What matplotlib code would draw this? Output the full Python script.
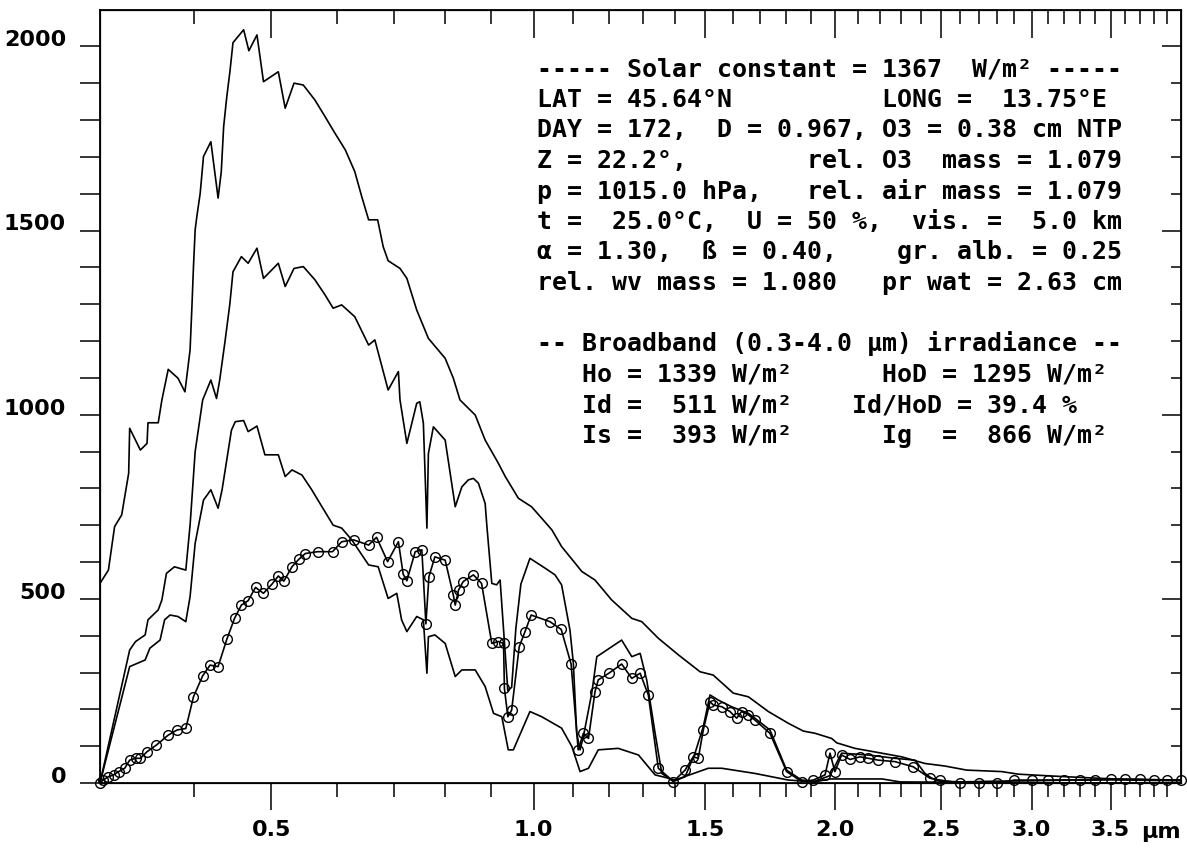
import numpy as np
import matplotlib.pyplot as plt

plt.rcParams['font.family'] = 'DejaVu Sans'
plt.rcParams['font.weight'] = 'bold'

# wavelength (um) and spectral irradiance (W m-2 um-1)
# top curve
wl_top = [0.300, 0.308, 0.314, 0.321, 0.328, 0.329, 0.340, 0.347, 0.348, 0.359,
          0.363, 0.370, 0.381, 0.389, 0.395, 0.397, 0.399, 0.401, 0.403, 0.407,
          0.411, 0.420, 0.429, 0.433, 0.436, 0.440, 0.444, 0.448, 0.462, 0.469,
          0.480, 0.489, 0.510, 0.520, 0.533, 0.547, 0.565, 0.581, 0.597, 0.614,
          0.630, 0.642, 0.654, 0.670, 0.680, 0.689, 0.711, 0.724, 0.743, 0.766,
          0.800, 0.817, 0.831, 0.864, 0.886, 0.916, 0.932, 0.963, 0.995, 1.024,
          1.046, 1.071, 1.125, 1.161, 1.208, 1.267, 1.297, 1.348, 1.412, 1.484,
          1.529, 1.600, 1.655, 1.730, 1.808, 1.868, 1.916, 1.986, 2.008, 2.088,
          2.209, 2.304, 2.418, 2.520, 2.634, 2.827, 2.922, 3.122, 3.310, 3.530,
          4.000]
E_top = [542, 578, 696, 728, 841, 963, 904, 922, 978, 978,
         1040, 1123, 1099, 1062, 1176, 1284, 1402, 1502, 1538, 1601,
         1701, 1741, 1588, 1660, 1782, 1863, 1931, 2010, 2045, 1988,
         2031, 1904, 1931, 1832, 1900, 1895, 1854, 1809, 1764, 1719,
         1660, 1592, 1529, 1529, 1456, 1418, 1397, 1370, 1284, 1207,
         1153, 1099, 1040, 999, 931, 868, 832, 773, 750, 714,
         687, 642, 574, 551, 497, 447, 438, 393, 348, 302,
         293, 244, 234, 194, 162, 141, 135, 121, 109, 94,
         81, 71, 53, 46, 35, 31, 24, 19, 15, 11,
         8]

# second curve
wl_mid = [0.300, 0.329, 0.335, 0.345, 0.348, 0.359, 0.363, 0.368, 0.377, 0.390,
          0.395, 0.401, 0.410, 0.420, 0.427, 0.431, 0.438, 0.444, 0.448, 0.459,
          0.468, 0.480, 0.489, 0.510, 0.520, 0.533, 0.547, 0.565, 0.581, 0.594,
          0.608, 0.630, 0.654, 0.665, 0.689, 0.708, 0.711, 0.724, 0.743, 0.749,
          0.756, 0.763, 0.766, 0.776, 0.800, 0.821, 0.835, 0.849, 0.860, 0.871,
          0.886, 0.890, 0.901, 0.912, 0.920, 0.929, 0.938, 0.947, 0.957, 0.969,
          0.991, 1.029, 1.054, 1.071, 1.093, 1.102, 1.111, 1.120, 1.129, 1.152,
          1.166, 1.180, 1.237, 1.267, 1.292, 1.312, 1.338, 1.359, 1.396, 1.434,
          1.467, 1.495, 1.518, 1.547, 1.594, 1.655, 1.679, 1.736, 1.801, 1.861,
          1.916, 1.979, 2.029, 2.148, 2.272, 2.369, 2.418, 2.452, 2.494, 2.600,
          2.800, 3.000, 3.200, 3.400, 3.600, 3.800, 4.000]
E_mid = [0, 361, 384, 402, 443, 470, 497, 569, 587, 578,
         700, 900, 1040, 1094, 1044, 1094, 1203, 1302, 1388, 1429,
         1411, 1452, 1370, 1411, 1348, 1397, 1402, 1366, 1325, 1289,
         1298, 1266, 1189, 1203, 1067, 1117, 1040, 922, 1031, 1035,
         977, 692, 895, 967, 931, 750, 804, 823, 827, 814,
         759, 696, 542, 538, 551, 400, 250, 260, 420, 540,
         610, 583, 565, 538, 415, 325, 135, 90, 126, 244,
         343, 352, 388, 343, 352, 280, 135, 26, 4, 17,
         81, 153, 239, 225, 207, 189, 176, 144, 35, 8,
         5, 20, 81, 76, 67, 62, 26, 13, 5, 3,
         5, 6, 8, 9, 8, 7, 6]

# curve drawn with circles
wl_dir = [0.300, 0.303, 0.308, 0.313, 0.318, 0.324, 0.329, 0.335, 0.340, 0.347,
          0.357, 0.370, 0.380, 0.390, 0.399, 0.410, 0.419, 0.429, 0.440, 0.450,
          0.459, 0.468, 0.478, 0.489, 0.501, 0.510, 0.518, 0.530, 0.540, 0.550,
          0.569, 0.593, 0.608, 0.628, 0.654, 0.668, 0.688, 0.708, 0.717, 0.724,
          0.740, 0.753, 0.761, 0.767, 0.779, 0.800, 0.817, 0.821, 0.828, 0.838,
          0.860, 0.878, 0.901, 0.916, 0.928, 0.930, 0.938, 0.947, 0.965, 0.979,
          0.994, 1.041, 1.070, 1.096, 1.115, 1.129, 1.143, 1.161, 1.170, 1.200,
          1.237, 1.267, 1.292, 1.317, 1.348, 1.396, 1.434, 1.461, 1.478, 1.495,
          1.518, 1.529, 1.559, 1.588, 1.612, 1.630, 1.655, 1.679, 1.736, 1.801,
          1.861, 1.909, 1.958, 1.979, 2.000, 2.029, 2.066, 2.110, 2.148, 2.194,
          2.272, 2.360, 2.443, 2.494, 2.600, 2.700, 2.800, 2.900, 3.000, 3.100,
          3.200, 3.300, 3.400, 3.500, 3.600, 3.700, 3.800, 3.900, 4.000]
E_dir = [0, 8, 17, 22, 31, 40, 62, 67, 67, 85,
         103, 130, 144, 148, 234, 291, 320, 316, 390, 447,
         483, 495, 531, 515, 540, 562, 548, 587, 607, 623,
         628, 628, 655, 660, 646, 667, 601, 655, 567, 549,
         628, 633, 432, 560, 614, 605, 510, 483, 524, 547,
         565, 542, 379, 384, 379, 257, 180, 198, 370, 411,
         456, 438, 417, 323, 90, 135, 121, 248, 280, 298,
         323, 284, 298, 239, 40, 4, 35, 71, 67, 144,
         221, 212, 207, 194, 176, 194, 185, 171, 135, 31,
         4, 8, 22, 81, 31, 76, 64, 71, 67, 62,
         58, 44, 13, 8, 0, 0, 0, 8, 8, 8,
         8, 8, 8, 10, 10, 10, 8, 8, 8]

# lowest curve
wl_low = [0.300, 0.329, 0.345, 0.350, 0.361, 0.366, 0.372, 0.381, 0.390, 0.395,
          0.401, 0.411, 0.420, 0.429, 0.434, 0.446, 0.451, 0.462, 0.468, 0.480,
          0.491, 0.510, 0.520, 0.530, 0.545, 0.560, 0.576, 0.594, 0.608, 0.625,
          0.654, 0.671, 0.689, 0.705, 0.714, 0.724, 0.743, 0.756, 0.763, 0.766,
          0.779, 0.800, 0.821, 0.835, 0.864, 0.886, 0.905, 0.924, 0.939, 0.951,
          0.991, 1.020, 1.071, 1.098, 1.120, 1.143, 1.170, 1.227, 1.287, 1.338,
          1.380, 1.401, 1.512, 1.559, 1.679, 1.808, 1.916, 1.979, 2.211, 2.296,
          2.817, 4.000]
E_low = [0, 316, 334, 366, 388, 443, 456, 452, 438, 506,
         651, 768, 796, 746, 796, 958, 981, 984, 954, 969,
         891, 891, 832, 850, 836, 796, 750, 700, 692, 660,
         592, 587, 501, 515, 443, 411, 452, 443, 298, 397,
         402, 379, 289, 307, 307, 262, 189, 180, 90, 90,
         194, 180, 149, 99, 31, 40, 90, 94, 76, 22,
         13, 8, 40, 40, 26, 8, 3, 11, 11, 3,
         1, 0]

info_lines = [
    "----- Solar constant = 1367  W/m² -----",
    "LAT = 45.64°N          LONG =  13.75°E",
    "DAY = 172,  D = 0.967, O3 = 0.38 cm NTP",
    "Z = 22.2°,        rel. O3  mass = 1.079",
    "p = 1015.0 hPa,   rel. air mass = 1.079",
    "t =  25.0°C,  U = 50 %,  vis. =  5.0 km",
    "α = 1.30,  ß = 0.40,    gr. alb. = 0.25",
    "rel. wv mass = 1.080   pr wat = 2.63 cm",
    "",
    "-- Broadband (0.3-4.0 µm) irradiance --",
    "   Ho = 1339 W/m²      HoD = 1295 W/m²",
    "   Id =  511 W/m²    Id/HoD = 39.4 %",
    "   Is =  393 W/m²      Ig  =  866 W/m²",
]

x_major = [0.5, 1.0, 1.5, 2.0, 2.5, 3.0, 3.5]
x_labels = ["0.5", "1.0", "1.5", "2.0", "2.5", "3.0", "3.5"]
x_minor = [round(0.4 + 0.1 * i, 1) for i in range(36)]
x_minor = [v for v in x_minor if v not in x_major]
y_major = [0, 500, 1000, 1500, 2000]
y_labels = ["0", "500", "1000", "1500", "2000"]
y_minor = [v for v in range(0, 2001, 100) if v not in y_major]


def fwd(x):
    return np.sign(x) * np.abs(x) ** 0.2


def inv(x):
    return np.sign(x) * np.abs(x) ** 5


W, H = 1187, 848
fig = plt.figure(figsize=(W / 100, H / 100), dpi=100)
ax = fig.add_axes([100 / W, 65 / H, 1081 / W, 773.5 / H])
ax.set_xscale('function', functions=(fwd, inv))
ax.set_xlim(0.3, 4.0)
ax.set_ylim(0, 2100)

lw = 1.2
ax.plot(wl_top, E_top, color='black', lw=lw)
ax.plot(wl_mid, E_mid, color='black', lw=lw)
ax.plot(wl_low, E_low, color='black', lw=lw)
ax.plot(wl_dir, E_dir, color='black', lw=lw, marker='o', ms=7, mfc='none',
        mec='black', mew=1.0, clip_on=False, zorder=3)

for s in ax.spines.values():
    s.set_linewidth(1.3)

# bottom and left ticks, pointing out
ax.set_xticks(x_major, x_labels)
ax.set_xticks(x_minor, minor=True)
ax.set_yticks(y_major, y_labels)
ax.set_yticks(y_minor, minor=True)
ax.tick_params(axis='x', which='major', direction='out', length=19.5, width=1.1,
               pad=7, labelsize=16, top=False)
ax.tick_params(axis='x', which='minor', direction='out', length=10, width=1.1,
               top=False)
ax.tick_params(axis='y', which='both', direction='out', length=14.4, width=1.1,
               pad=10, labelsize=16, right=False)
for lab in ax.get_yticklabels():
    lab.set_verticalalignment('baseline')

# top ticks, pointing in
axt = ax.twiny()
axt.set_xscale('function', functions=(fwd, inv))
axt.set_xlim(0.3, 4.0)
axt.set_xticks(x_major)
axt.set_xticks(x_minor, minor=True)
axt.tick_params(axis='x', which='major', direction='in', length=20, width=1.1,
                labeltop=False)
axt.tick_params(axis='x', which='minor', direction='in', length=10, width=1.1)

# right ticks, pointing in
axr = ax.twinx()
axr.set_ylim(0, 2100)
axr.set_yticks(y_major)
axr.set_yticks(y_minor, minor=True)
axr.tick_params(axis='y', which='major', direction='in', length=14, width=1.1,
                labelright=False)
axr.tick_params(axis='y', which='minor', direction='in', length=7, width=1.1)

fig.text(1181 / W, 1 - 832 / H, "µm", ha='right', va='center', fontsize=16)

for i, line in enumerate(info_lines):
    if line:
        fig.text(537 / W, 1 - (76.5 + 30.5 * i) / H, line, ha='left',
                 va='baseline', family='DejaVu Sans Mono', fontsize=17.9,
                 weight='bold')

fig.savefig('out.png', dpi=100)
